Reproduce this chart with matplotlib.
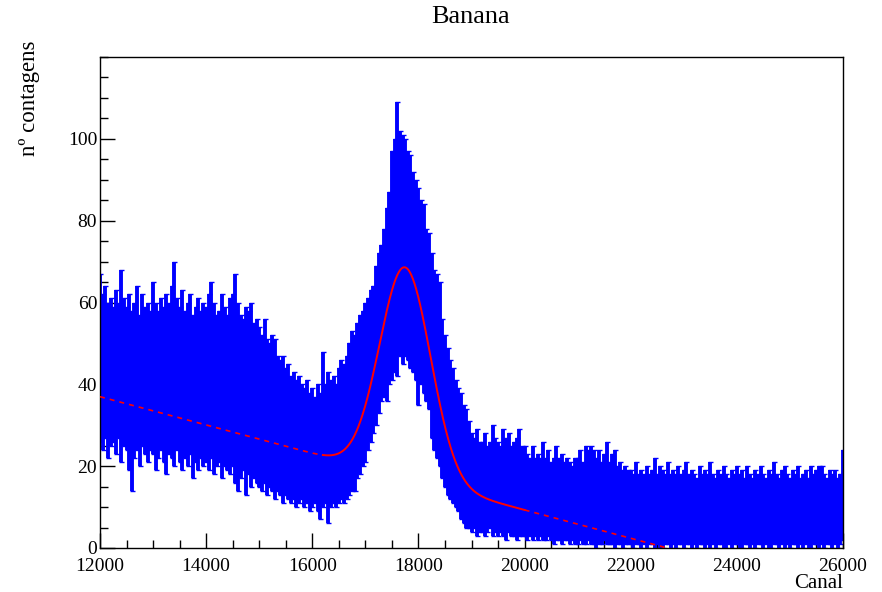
import numpy as np
import matplotlib
matplotlib.use("Agg")
import matplotlib.pyplot as plt

plt.rcParams['font.family'] = ['Liberation Serif', 'DejaVu Serif']

# channel positions (every 50 channels)
channels = np.arange(12000, 26001, 50)

# upper edge of the error-bar band (counts + error)
band_top = [
    67, 62, 64, 60, 61, 59, 63, 60, 68, 61, 59, 62, 58, 60, 64, 57, 62, 59, 60, 58,
    65, 60, 58, 61, 59, 62, 60, 64, 70, 61, 59, 63, 58, 60, 62, 57, 59, 61, 58, 60,
    59, 62, 65, 60, 57, 58, 62, 59, 57, 61, 62, 67, 60, 57, 56, 59, 58, 60, 55, 56,
    54, 52, 56, 51, 50, 52, 51, 47, 46, 47, 44, 45, 42, 43, 41, 42, 40, 39, 41, 38,
    39, 37, 40, 38, 48, 40, 43, 41, 42, 40, 44, 46, 45, 47, 50, 53, 52, 55, 57, 58,
    60, 61, 63, 64, 69, 72, 74, 78, 83, 87, 97, 100, 109, 102, 101, 100, 97, 96, 92, 90,
    88, 85, 84, 78, 77, 72, 68, 67, 65, 56, 52, 49, 46, 44, 41, 39, 38, 35, 34, 31,
    28, 27, 29, 26, 26, 28, 25, 26, 30, 27, 26, 25, 29, 27, 28, 25, 26, 27, 29, 25,
    25, 23, 22, 25, 22, 23, 22, 26, 22, 24, 21, 22, 25, 22, 23, 21, 22, 21, 20, 22,
    22, 24, 21, 25, 24, 25, 24, 22, 24, 21, 23, 26, 21, 23, 24, 20, 21, 19, 20, 19,
    19, 18, 21, 18, 19, 18, 20, 18, 19, 22, 18, 20, 19, 18, 21, 18, 19, 18, 20, 18,
    19, 21, 18, 19, 18, 17, 20, 18, 19, 18, 21, 18, 17, 19, 18, 20, 18, 17, 19, 18,
    20, 18, 19, 17, 20, 18, 17, 19, 18, 20, 18, 17, 19, 18, 21, 18, 17, 19, 20, 18,
    17, 19, 18, 20, 17, 18, 19, 17, 20, 18, 19, 20, 20, 18, 17, 19, 18, 19, 17, 18, 24,
]

# lower edge of the error-bar band (counts - error)
band_bottom = [
    26, 24, 27, 22, 25, 26, 23, 27, 21, 25, 24, 19, 14, 22, 24, 20, 25, 23, 21, 24,
    23, 19, 22, 24, 21, 18, 23, 22, 20, 24, 21, 19, 22, 20, 23, 17, 21, 19, 22, 20,
    21, 19, 22, 18, 20, 21, 17, 20, 19, 18, 20, 16, 14, 17, 19, 13, 18, 15, 17, 16,
    15, 14, 16, 13, 15, 14, 12, 14, 13, 11, 13, 12, 11, 12, 10, 11, 12, 10, 11, 9,
    10, 11, 9, 7, 10, 11, 6, 10, 11, 10, 11, 12, 11, 12, 13, 14, 14, 17, 18, 20,
    21, 24, 26, 28, 30, 33, 36, 37, 36, 40, 41, 43, 42, 47, 45, 47, 46, 44, 43, 41,
    35, 40, 38, 36, 34, 27, 24, 22, 20, 17, 15, 13, 12, 11, 10, 9, 7, 6, 5, 5,
    4, 5, 3, 4, 4, 3, 4, 5, 3, 4, 3, 4, 3, 2, 4, 3, 3, 2, 3, 3,
    3, 2, 3, 2, 3, 2, 3, 2, 2, 3, 2, 1, 2, 2, 1, 2, 2, 1, 2, 1,
    1, 2, 1, 1, 2, 1, 1, 0, 1, 1, 2, 1, 1, 1, 0, 1, 1, 0, 1, 1,
    1, 0, 1, 1, 0, 1, 0, 1, 1, 0, 1, 0, 0, 1, 1, 0, 1, 0, 1, 1,
    0, 1, 1, 0, 1, 0, 1, 1, 0, 1, 0, 1, 0, 1, 1, 0, 0, 1, 0, 1,
    1, 0, 0, 1, 1, 0, 1, 0, 1, 1, 0, 1, 0, 0, 1, 1, 0, 1, 0, 1,
    0, 1, 1, 0, 1, 0, 1, 0, 0, 1, 1, 0, 1, 0, 1, 1, 0, 1, 0, 1, 2,
]

# fit: gaussian + linear background (parameters)
fit_amp = 51.5
fit_mean = 17750.0
fit_sigma = 480.0
fit_p0 = 78.5
fit_p1 = -0.00346
fit_range = (16200, 20000)

x_ticks = [12000, 14000, 16000, 18000, 20000, 22000, 24000, 26000]
y_ticks = [0, 20, 40, 60, 80, 100]

top = np.array(band_top, dtype=float)
bot = np.array(band_bottom, dtype=float)
mid = (top + bot) / 2.0
half = (top - bot) / 2.0


def fit_func(x):
    return fit_amp * np.exp(-0.5 * ((x - fit_mean) / fit_sigma) ** 2) + fit_p0 + fit_p1 * x


fig = plt.figure(figsize=(8.82, 5.92), dpi=100)
ax = fig.add_axes([100 / 882, 44 / 592, 743 / 882, 491 / 592])

ax.errorbar(channels, mid, yerr=half, fmt='none', ecolor='#0000ff',
            elinewidth=2.8, capsize=1.8, capthick=1.0, zorder=2)

xs = np.linspace(fit_range[0], fit_range[1], 600)
ax.plot(xs, fit_func(xs), color='#ff0000', lw=1.4, zorder=4)
xl = np.linspace(12000, fit_range[0], 300)
ax.plot(xl, fit_func(xl), color='#ff0000', lw=1.2, dashes=(3, 3), zorder=4)
xr = np.linspace(fit_range[1], 26000, 600)
ax.plot(xr, fit_func(xr), color='#ff0000', lw=1.2, dashes=(3, 3), zorder=4)

ax.set_xlim(12000, 26000)
ax.set_ylim(0, 120)
ax.set_xticks(x_ticks)
ax.set_yticks(y_ticks)
ax.set_xticks(np.arange(12000, 26001, 500), minor=True)
ax.set_yticks(np.arange(0, 121, 5), minor=True)
ax.tick_params(axis='both', which='major', direction='in', length=11, width=1,
               labelsize=14, top=False, right=False)
ax.tick_params(axis='both', which='minor', direction='in', length=5.5, width=1,
               top=False, right=False)
ax.tick_params(axis='x', which='major', pad=7)
ax.tick_params(axis='y', which='major', pad=2)
for s in ax.spines.values():
    s.set_linewidth(1.0)
    s.set_color('black')

fig.text(471 / 882, 1 - 17 / 592, 'Banana', ha='center', va='center', fontsize=19)
fig.text(843 / 882, 1 - 584 / 592, 'Canal', ha='right', va='center', fontsize=15)
fig.text(30 / 882, 1 - 40 / 592, 'nº contagens', ha='center', va='top',
         rotation=90, fontsize=16.5)

fig.savefig('out.png', dpi=100)
